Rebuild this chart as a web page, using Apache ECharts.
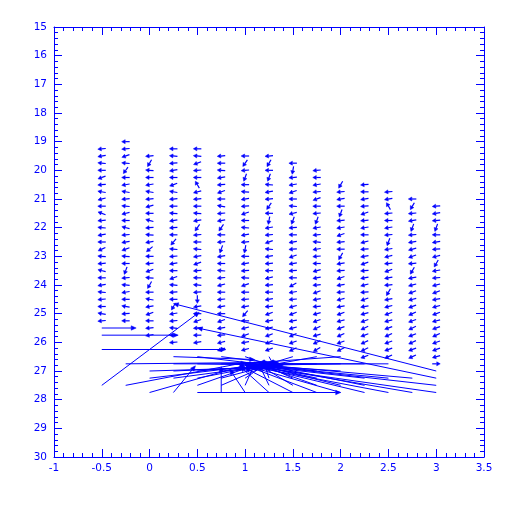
<!DOCTYPE html>
<html><head><meta charset="utf-8">
<script src="https://cdn.jsdelivr.net/npm/echarts@6/dist/echarts.min.js"></script>
<style>html,body{margin:0;padding:0;background:#fff}#c{width:512px;height:512px}</style>
</head><body><div id="c"></div>
<script>
// Grid columns (x) and the first row (y) of each column; rows are 0.25 apart
const colX = [-0.5,-0.25,0,0.25,0.5,0.75,1,1.25,1.5,1.75,2,2.25,2.5,2.75,3];
const colTop = [19.25,19,19.5,19.25,19.25,19.5,19.5,19.5,19.75,20,20.5,20.5,20.75,21,21.25];
// Direction (degrees, counter-clockwise from +x on screen) of the short vectors, top to bottom
const colAngles = [
 [185,190,175,180,200,185,170,195,180,160,185,175,190,180,205,175,185,165,180,190,175,185,180,170,185],
 [180,185,200,175,235,180,190,170,185,175,195,180,165,185,190,200,175,180,250,185,175,190,180,170,185,180],
 [185,240,175,180,190,170,185,195,180,165,185,175,190,220,180,185,200,175,240,180,170,190,200,180,185,190],
 [180,175,185,190,180,200,170,185,180,175,190,185,180,230,175,185,190,180,200,175,185,180,240,190,185,175,180,185],
 [180,175,200,185,180,120,195,185,180,175,190,235,185,180,175,190,200,185,180,175,185,270,190,180,200,185,180,190],
 [185,180,175,190,185,200,180,170,185,190,235,180,185,250,190,180,175,185,195,180,185,190,180,200,190,185,195,200],
 [180,235,185,250,180,175,190,185,200,180,175,190,185,260,180,190,185,175,200,180,185,190,230,180,195,200,190,195],
 [185,240,180,250,175,190,185,235,180,260,190,185,200,175,190,185,180,195,185,180,190,185,200,190,195,200,205,200],
 [180,260,185,190,200,180,175,195,250,185,180,190,185,200,190,185,180,210,190,185,195,200,190,195,205,200,205],
 [185,180,190,185,200,180,185,250,190,185,175,190,185,180,195,190,185,200,190,185,195,200,205,195,205,210],
 [240,185,190,180,250,185,190,200,185,180,240,190,185,200,190,185,195,190,200,195,200,205,200,205],
 [185,180,190,185,200,185,190,180,195,185,190,200,185,190,195,185,200,190,195,200,205,200,205,205,200],
 [185,190,120,185,180,190,185,250,190,195,185,200,190,185,240,190,195,200,195,200,205,200,200,205],
 [180,240,185,190,250,185,190,195,200,185,240,190,195,200,195,200,205,200,205,200,205,200,205],
 [185,190,185,250,180,190,185,195,240,190,185,195,200,190,195,200,195,200,205,200,200,195,0]
];
// Large vectors near the bottom: start x, start y, dx, dy (data units)
const bigX  = [-0.5,-0.5,-0.5,-0.5,-0.25,-0.25,0,0,0,0.25,0.25,0.5,0.75,1,1.25,1.5,1.75,2,2.25,2.5,2.75,3,3,3,3,2.75,2.5,2.25,2.0];
const bigY  = [25.5,25.75,26.25,27.5,26.75,27.5,27,27.25,27.75,27.75,26.5,27.75,27.75,27.75,27.75,27.75,27.75,27.75,27.75,27.75,27.75,27.75,27.5,27.25,27,27.25,27.25,27.25,27.0];
const bigDX = [0.36,0.8,1.3,1.02,1.5,1.26,1.0,1.0,1.0,0.23,0.85,1.5,0,-0.16,-0.3,-0.5,-0.75,-1.0,-1.25,-1.5,-1.75,-2.0,-2.0,-2.5,-2.75,-1.7,-1.4,-1.2,-0.9];
const bigDY = [0,0,0,-2.55,-0.05,-0.8,-0.1,-0.4,-0.95,-0.93,0.1,0,-0.9,-0.8,-0.9,-0.85,-0.95,-0.95,-1.0,-0.95,-1.0,-0.95,-0.75,-1.75,-2.35,-0.5,-0.45,-0.45,-0.2];
// Vectors of the dense knot around (1, 26.8)
const knotX  = [0.5,0.75,1,1.25,1.5,1.75,2, 0.25,0.5,0.75,1,1.25,1.5,1.75,2,2.25,2.5, 0.25,0.5,0.75,1,1.25,1.5,1.75, 0.25,0.5,0.75,1,1.25,1.5,1.75, 0.5,0.75,1,1.25,1.5,1.75,2,2.25];
const knotY  = [26.5,26.5,26.5,26.5,26.5,26.5,26.5, 26.75,26.75,26.75,26.75,26.75,26.75,26.75,26.75,26.75,26.75, 27,27,27,27,27,27,27, 27.25,27.25,27.25,27.25,27.25,27.25,27.25, 27.5,27.5,27.5,27.5,27.5,27.5,27.5,27.5];
const knotDX = [0.75,0.6,0.3,0.05,-0.25,-0.5,-0.85, 1.1,0.9,0.6,0.35,0.1,-0.3,-0.55,-0.85,-1.1,-1.35, 1.0,0.8,0.55,0.35,0.05,-0.2,-0.5, 0.9,0.7,0.45,0.2,-0.05,-0.3,-0.55, 0.6,0.45,0.1,-0.1,-0.35,-0.55,-0.85,-1.05];
const knotDY = [0.3,0.25,0.35,0.3,0.25,0.3,0.2, 0,0.05,-0.05,0.05,0,0.05,0,0.05,0,0, -0.15,-0.2,-0.15,-0.2,-0.25,-0.2,-0.2, -0.4,-0.45,-0.4,-0.45,-0.5,-0.45,-0.4, -0.7,-0.65,-0.75,-0.7,-0.7,-0.65,-0.7,-0.7];

const BLUE = '#0000ff';
const smallData = [];
colX.forEach((x, c) => colAngles[c].forEach((a, i) => smallData.push([x, colTop[c] + i * 0.25, a])));
const bigData = bigX.map((x, i) => [x, bigY[i], bigDX[i], bigDY[i]])
  .concat(knotX.map((x, i) => [x, knotY[i], knotDX[i], knotDY[i]]));

function arrowShape(p0, p1, h, w, lw) {
  let dx = p1[0] - p0[0], dy = p1[1] - p0[1];
  const len = Math.hypot(dx, dy) || 1;
  dx /= len; dy /= len;
  const hh = Math.min(h, len * 0.6);
  const bx = p1[0] - dx * hh, by = p1[1] - dy * hh;
  return {
    type: 'group',
    children: [
      { type: 'line', shape: { x1: p0[0], y1: p0[1], x2: bx, y2: by }, style: { stroke: BLUE, lineWidth: lw } },
      { type: 'polygon', shape: { points: [[p1[0], p1[1]], [bx - dy * w, by + dx * w], [bx + dy * w, by - dx * w]] }, style: { fill: BLUE, stroke: BLUE, lineWidth: 0.5 } }
    ]
  };
}

function axisCommon() {
  return {
    axisLine: { show: true, onZero: false, lineStyle: { color: BLUE, width: 1 } },
    axisTick: { show: true, inside: true, length: 8, lineStyle: { color: BLUE } },
    minorTick: { show: true, splitNumber: 5, length: 4, lineStyle: { color: BLUE } },
    splitLine: { show: false },
    minorSplitLine: { show: false }
  };
}
const labelStyle = { color: BLUE, fontFamily: 'DejaVu Sans', fontSize: 10.5 };

const chart = echarts.init(document.getElementById('c'), null, { renderer: 'canvas' });
chart.setOption({
  animation: false,
  backgroundColor: '#fff',
  grid: { left: 54, right: 28, top: 27, bottom: 55 },
  xAxis: [
    Object.assign({ type: 'value', min: -1, max: 3.5, interval: 0.5, position: 'bottom',
      axisLabel: Object.assign({ margin: 6 }, labelStyle) }, axisCommon()),
    Object.assign({ type: 'value', min: -1, max: 3.5, interval: 0.5, position: 'top',
      axisLabel: { show: false } }, axisCommon())
  ],
  yAxis: [
    Object.assign({ type: 'value', min: 15, max: 30, interval: 1, inverse: true, position: 'left',
      axisLabel: Object.assign({ margin: 7 }, labelStyle) }, axisCommon()),
    Object.assign({ type: 'value', min: 15, max: 30, interval: 1, inverse: true, position: 'right',
      axisLabel: { show: false } }, axisCommon())
  ],
  series: [
    {
      type: 'custom', coordinateSystem: 'cartesian2d', xAxisIndex: 0, yAxisIndex: 0,
      data: smallData, encode: { x: 0, y: 1 }, clip: true,
      renderItem: function (params, api) {
        const p = api.coord([api.value(0), api.value(1)]);
        const a = api.value(2) * Math.PI / 180;
        const L = 8;
        const ux = Math.cos(a) * L / 2, uy = -Math.sin(a) * L / 2;
        return arrowShape([p[0] - ux, p[1] - uy], [p[0] + ux, p[1] + uy], 3.5, 2, 1.2);
      }
    },
    {
      type: 'custom', coordinateSystem: 'cartesian2d', xAxisIndex: 0, yAxisIndex: 0,
      data: bigData, encode: { x: 0, y: 1 }, clip: true,
      renderItem: function (params, api) {
        const x = api.value(0), y = api.value(1);
        const p0 = api.coord([x, y]);
        const p1 = api.coord([x + api.value(2), y + api.value(3)]);
        return arrowShape(p0, p1, 5, 2.2, 1);
      }
    }
  ]
});
</script></body></html>
